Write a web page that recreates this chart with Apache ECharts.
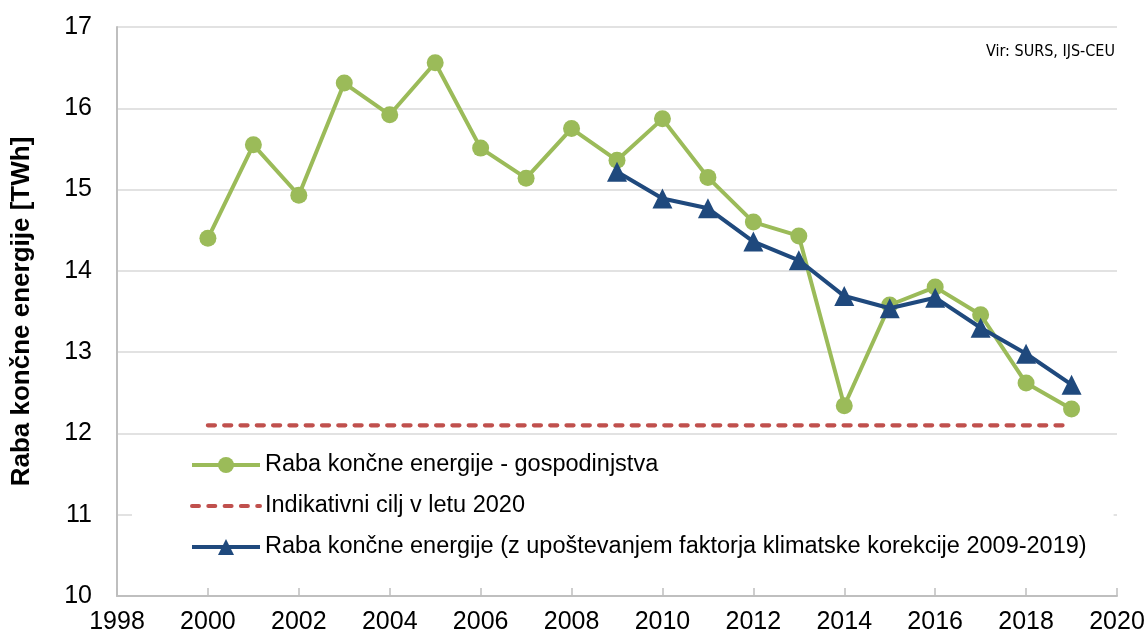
<!DOCTYPE html>
<html>
<head>
<meta charset="utf-8">
<script src="https://cdn.jsdelivr.net/npm/echarts@6/dist/echarts.min.js"></script>
<style>
    html, body { margin: 0; padding: 0; background: #fff; }
    #chart { width: 1148px; height: 636px; }
</style>
</head>
<body>
<div id="chart"></div>
<script>
// leta in vrednosti [TWh]
const years = [2000, 2001, 2002, 2003, 2004, 2005, 2006, 2007, 2008, 2009,
    2010, 2011, 2012, 2013, 2014, 2015, 2016, 2017, 2018, 2019]
const gospodinjstva = [14.40, 15.55, 14.93, 16.31, 15.92, 16.56, 15.51, 15.14, 15.75, 15.36,
    15.87, 15.15, 14.60, 14.43, 12.34, 13.58, 13.80, 13.46, 12.62, 12.30]
const korekcijaYears = [2009, 2010, 2011, 2012, 2013, 2014, 2015, 2016, 2017, 2018, 2019]
const korekcija = [15.22, 14.89, 14.77, 14.36, 14.13, 13.69, 13.54, 13.67, 13.30, 12.98, 12.60]
const ciljYears = [2000, 2019]
const cilj = [12.1, 12.1]
const seriesNames = [
    'Raba končne energije - gospodinjstva',
    'Indikativni cilj v letu 2020',
    'Raba končne energije (z upoštevanjem faktorja klimatske korekcije 2009-2019)',
]

const pairs = (xs, ys) => xs.map((x, i) => [x, ys[i]])

const green = '#9bbb59'
const red = '#c0504d'
const blue = '#1f497d'
const font = 'Liberation Sans, Arial, sans-serif'

const chart = echarts.init(document.getElementById('chart'))
const option = {
    animation: false,
    backgroundColor: '#fff',
    textStyle: { fontFamily: font },
    grid: { left: 117, right: 31, top: 27, bottom: 40, containLabel: false },
    graphic: [{
        type: 'text',
        right: 33,
        top: 44,
        style: {
            text: 'Vir: SURS, IJS-CEU',
            fontSize: 16,
            fontFamily: 'DejaVu Sans Condensed, DejaVu Sans, sans-serif',
            fill: '#000',
        },
    }],
    legend: {
        orient: 'vertical',
        left: 132,
        top: 443,
        backgroundColor: '#fff',
        padding: [10, 27, 10, 58],
        itemWidth: 68,
        itemHeight: 20,
        itemGap: 17,
        lineStyle: { width: 4 },
        textStyle: { fontSize: 23.5, color: '#000', fontFamily: font },
        data: [
            { name: seriesNames[0] },
            { name: seriesNames[1], itemStyle: { opacity: 0 } },
            { name: seriesNames[2] },
        ],
    },
    xAxis: {
        type: 'value',
        min: 1998,
        max: 2020,
        interval: 2,
        axisLine: { show: true, lineStyle: { color: '#bfbfbf', width: 2 } },
        axisTick: { show: true, inside: true, length: 8, lineStyle: { color: '#bfbfbf', width: 1.5 } },
        axisLabel: { fontSize: 25, color: '#000', margin: 14, formatter: v => String(v) },
        splitLine: { show: false },
    },
    yAxis: {
        type: 'value',
        min: 10,
        max: 17,
        interval: 1,
        name: 'Raba končne energije [TWh]',
        nameLocation: 'middle',
        nameGap: 82,
        nameTextStyle: { fontSize: 26, fontWeight: 'bold', color: '#000', fontFamily: font },
        axisLine: { show: true, lineStyle: { color: '#bfbfbf', width: 2 } },
        axisTick: { show: false },
        axisLabel: { fontSize: 25, color: '#000', margin: 25 },
        splitLine: { show: true, lineStyle: { color: '#d9d9d9', width: 1.5 } },
    },
    series: [
        {
            name: seriesNames[0],
            type: 'line',
            data: pairs(years, gospodinjstva),
            symbol: 'circle',
            symbolSize: 17,
            itemStyle: { color: green },
            lineStyle: { color: green, width: 4 },
            z: 3,
        },
        {
            name: seriesNames[1],
            type: 'line',
            data: pairs(ciljYears, cilj),
            symbol: 'none',
            itemStyle: { color: red },
            lineStyle: { color: red, width: 4.3, type: [7, 9.3], cap: 'round' },
            z: 2,
        },
        {
            name: seriesNames[2],
            type: 'line',
            data: pairs(korekcijaYears, korekcija),
            symbol: 'triangle',
            symbolSize: 20,
            itemStyle: { color: blue },
            lineStyle: { color: blue, width: 4 },
            z: 4,
        },
    ],
}
chart.setOption(option)
</script>
</body>
</html>
